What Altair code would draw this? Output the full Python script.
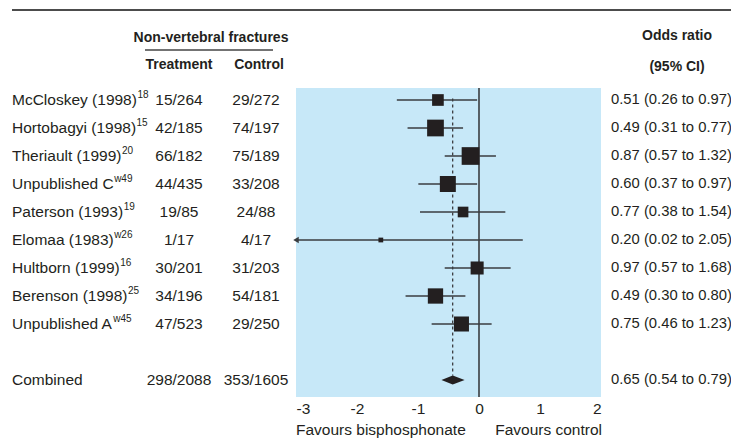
import altair as alt
import pandas as pd
import numpy as np

# ---------------- data ----------------
studies = ["McCloskey (1998)", "Hortobagyi (1998)", "Theriault (1999)", "Unpublished C",
           "Paterson (1993)", "Elomaa (1983)", "Hultborn (1999)", "Berenson (1998)", "Unpublished A"]
refs = ["18", "15", "20", "w49", "19", "w26", "16", "25", "w45"]
treatment = ["15/264", "42/185", "66/182", "44/435", "19/85", "1/17", "30/201", "34/196", "47/523"]
control = ["29/272", "74/197", "75/189", "33/208", "24/88", "4/17", "31/203", "54/181", "29/250"]
odds = [0.51, 0.49, 0.87, 0.60, 0.77, 0.20, 0.97, 0.49, 0.75]
ci_low = [0.26, 0.31, 0.57, 0.37, 0.38, 0.02, 0.57, 0.30, 0.46]
ci_high = [0.97, 0.77, 1.32, 0.97, 1.54, 2.05, 1.68, 0.80, 1.23]
weights = [7.8, 16.0, 17.9, 14.6, 6.5, 1.3, 9.7, 13.4, 12.9]

combined_label = "Combined"
combined_treatment = "298/2088"
combined_control = "353/1605"
combined_or = 0.65
combined_low = 0.54
combined_high = 0.79

x_ticks = [-3, -2, -1, 0, 1, 2]

# ---------------- style ----------------
FONT = "Liberation Sans"
TXT = "#231f20"
LINE = "#3a3d40"
BLUE = "#c7e8f8"
FS = 15.5
SUP_FS = 10
W, H = 305, 309
ROW_PX, FIRST_PX = 28, 12
XMIN, XMAX = x_ticks[0], x_ticks[-1]
LABEL_X = -284

# Arial / Liberation Sans advance widths (1/1000 em) used to place superscripts
ADV = {" ": 278, "(": 333, ")": 333, "M": 833, "C": 722, "H": 722, "T": 611, "U": 722,
       "P": 667, "E": 667, "B": 667, "A": 667, "a": 556, "b": 556, "c": 500, "d": 556,
       "e": 556, "f": 278, "g": 556, "h": 556, "i": 222, "k": 500, "l": 222, "m": 833,
       "n": 556, "o": 556, "p": 556, "r": 333, "s": 500, "t": 278, "u": 556, "v": 500,
       "w": 722, "y": 500}

def text_width(s, size):
    return sum(ADV.get(ch, 556) for ch in s) * size / 1000.0

n = len(studies)
comb_row = n + 1
ydom = [-FIRST_PX / ROW_PX, (H - FIRST_PX) / ROW_PX]
yscale = alt.Scale(domain=ydom, reverse=True)
xscale = alt.Scale(domain=[XMIN, XMAX], nice=False, zero=False)

def fmt(o, l, h):
    return f"{o:.2f} ({l:.2f} to {h:.2f})"

studies_df = pd.DataFrame({
    "row": list(range(n)),
    "est": np.log(odds),
    "lo": np.log(ci_low),
    "hi": np.log(ci_high),
    "w": weights,
    "ref": refs,
})
studies_df["lo_c"] = studies_df["lo"].clip(lower=XMIN)
studies_df["hi_c"] = studies_df["hi"].clip(upper=XMAX)
studies_df["trunc"] = studies_df["lo"] < XMIN
studies_df["supx"] = [LABEL_X + text_width(s, FS) + 0.5 for s in studies]

text_df = pd.DataFrame({
    "row": list(range(n)) + [comb_row],
    "label": studies + [combined_label],
    "treat": treatment + [combined_treatment],
    "ctrl": control + [combined_control],
    "ortxt": [fmt(o, l, h) for o, l, h in zip(odds, ci_low, ci_high)]
             + [fmt(combined_or, combined_low, combined_high)],
})

c_est, c_lo, c_hi = np.log(combined_or), np.log(combined_low), np.log(combined_high)
half = 4.5 / ROW_PX
diamond_df = pd.DataFrame({
    "x": [c_lo, c_est, c_hi],
    "y": [comb_row, comb_row - half, comb_row],
    "y2": [comb_row, comb_row + half, comb_row],
})

one = pd.DataFrame({"v": [0]})

xaxis = alt.Axis(values=x_ticks, labelExpr="'' + datum.value", domain=False, ticks=False,
                 grid=False, title=None, labelFontSize=FS, labelColor=TXT, labelFont=FONT,
                 labelPadding=4)

base = alt.Chart(studies_df)

zero_line = alt.Chart(one).mark_rule(color=LINE, strokeWidth=1.6).encode(
    x=alt.datum(0, scale=xscale, axis=xaxis, type="quantitative"))

dashed = alt.Chart(pd.DataFrame({"x": [c_est], "y": [-0.05], "y2": [comb_row - half]})).mark_rule(
    color=TXT, strokeWidth=1.1, strokeDash=[3, 3]).encode(
    x=alt.X("x:Q", scale=xscale, axis=xaxis),
    y=alt.Y("y:Q", scale=yscale, axis=None), y2="y2:Q")

ci = base.mark_rule(color=LINE, strokeWidth=1.5).encode(
    x=alt.X("lo_c:Q", scale=xscale, axis=xaxis), x2="hi_c:Q",
    y=alt.Y("row:Q", scale=yscale, axis=None))

squares = base.mark_square(filled=True, color=TXT, opacity=1).encode(
    x=alt.X("est:Q", scale=xscale, axis=xaxis),
    y=alt.Y("row:Q", scale=yscale, axis=None),
    size=alt.Size("w:Q", scale=alt.Scale(domain=[0, max(weights)], range=[0, 313]), legend=None))

arrow = base.transform_filter("datum.trunc").mark_point(
    shape="triangle-left", filled=True, color=LINE, opacity=1, size=40, dx=3).encode(
    x=alt.X("lo_c:Q", scale=xscale, axis=xaxis),
    y=alt.Y("row:Q", scale=yscale, axis=None))

diamond = alt.Chart(diamond_df).mark_area(color=TXT, opacity=1).encode(
    x=alt.X("x:Q", scale=xscale, axis=xaxis),
    y=alt.Y("y:Q", scale=yscale, axis=None), y2="y2:Q")

tbase = alt.Chart(text_df)
tkw = dict(font=FONT, fontSize=FS, color=TXT, baseline="middle")
lab = tbase.mark_text(align="left", **tkw).encode(
    x=alt.value(LABEL_X), y=alt.Y("row:Q", scale=yscale, axis=None), text="label:N")
sup = base.mark_text(align="left", font=FONT, fontSize=SUP_FS, color=TXT, baseline="middle",
                     dy=-5.5).encode(
    x=alt.X("supx:Q", scale=None), y=alt.Y("row:Q", scale=yscale, axis=None), text="ref:N")
tre = tbase.mark_text(align="center", **tkw).encode(
    x=alt.value(-117), y=alt.Y("row:Q", scale=yscale, axis=None), text="treat:N")
ctl = tbase.mark_text(align="center", **tkw).encode(
    x=alt.value(-40), y=alt.Y("row:Q", scale=yscale, axis=None), text="ctrl:N")
ort = tbase.mark_text(align="left", font=FONT, fontSize=14.8, color=TXT, baseline="middle").encode(
    x=alt.value(315), y=alt.Y("row:Q", scale=yscale, axis=None), text="ortxt:N")

hkw = dict(font=FONT, fontSize=14, fontWeight="bold", color=TXT, baseline="middle", align="center")
headers = [
    alt.Chart(one).mark_text(text="Non-vertebral fractures", **hkw).encode(x=alt.value(-85), y=alt.value(-50)),
    alt.Chart(one).mark_text(text="Treatment", **hkw).encode(x=alt.value(-117), y=alt.value(-23)),
    alt.Chart(one).mark_text(text="Control", **hkw).encode(x=alt.value(-37), y=alt.value(-23)),
    alt.Chart(one).mark_text(text="Odds ratio", **hkw).encode(x=alt.value(381), y=alt.value(-52)),
    alt.Chart(one).mark_text(text="(95% CI)", **hkw).encode(x=alt.value(381), y=alt.value(-21)),
]
underline = alt.Chart(one).mark_rule(color="#444444", strokeWidth=1.3).encode(
    x=alt.value(-151), x2=alt.value(-23), y=alt.value(-38))
topline = alt.Chart(one).mark_rule(color="#111111", strokeWidth=1.5).encode(
    x=alt.value(-284), x2=alt.value(440), y=alt.value(-78))

fkw = dict(font=FONT, fontSize=FS, color=TXT, baseline="alphabetic")
fav1 = alt.Chart(one).mark_text(text="Favours bisphosphonate", align="left", **fkw).encode(
    x=alt.value(0), y=alt.value(347))
fav2 = alt.Chart(one).mark_text(text="Favours control", align="right", **fkw).encode(
    x=alt.value(306), y=alt.value(347))

chart = alt.layer(
    zero_line, dashed, ci, arrow, squares, diamond,
    lab, sup, tre, ctl, ort, *headers, underline, topline, fav1, fav2
).properties(
    width=W, height=H,
    autosize=alt.AutoSizeParams(type="none"),
    padding={"left": 288, "top": 80, "right": 130, "bottom": 45},
).configure_view(fill=BLUE, strokeWidth=0, stroke="transparent")

chart.save("out.html", embed_options={"renderer": "svg", "actions": False})
